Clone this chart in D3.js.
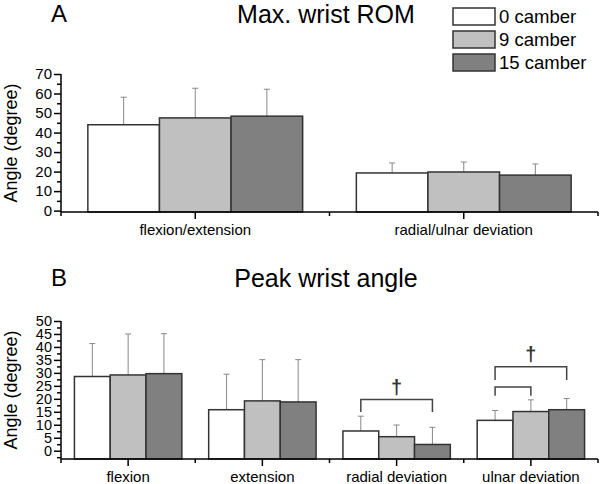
<!DOCTYPE html>
<html>
<head>
<meta charset="utf-8">
<script src="https://cdn.jsdelivr.net/npm/d3@7"></script>
<style>
  body { margin: 0; background: #fff; }
  svg { font-family: "Liberation Sans", Arial, sans-serif; }
</style>
</head>
<body>
<div id="chart"></div>
<script>
// series (camber conditions)
const seriesNames = ["0 camber", "9 camber", "15 camber"];
const seriesFill = ["#ffffff", "#c0c0c0", "#808080"];

// panel A: max wrist ROM
const romCategories = ["flexion/extension", "radial/ulnar deviation"];
const romMean = [[44.0, 47.5, 48.4], [19.3, 19.8, 18.2]];
const romSd = [[14.1, 15.2, 13.8], [5.1, 5.1, 5.7]];
const romTicks = [0, 10, 20, 30, 40, 50, 60, 70];

// panel B: peak wrist angle
const peakCategories = ["flexion", "extension", "radial deviation", "ulnar deviation"];
const peakMean = [[28.6, 29.2, 29.7], [15.8, 19.2, 18.8], [7.6, 5.4, 2.4], [11.7, 15.1, 15.8]];
const peakSd = [[12.7, 15.8, 15.4], [13.7, 15.9, 16.3], [5.7, 4.5, 6.6], [3.8, 4.5, 4.3]];
const peakTicks = [0, 5, 10, 15, 20, 25, 30, 35, 40, 45, 50];

// significance brackets in panel B: category, from series, to series, top, foot, dagger
const brackets = [
  { cat: "radial deviation", from: 0, to: 2, top: 19.7, foot: 14.9, mark: true },
  { cat: "ulnar deviation", from: 0, to: 2, top: 32.4, foot: 27.3, mark: true },
  { cat: "ulnar deviation", from: 0, to: 1, top: 24.6, foot: 21.2, mark: false }
];

const W = 600, H = 484;
const svg = d3.select("#chart").append("svg")
  .attr("width", W)
  .attr("height", H);

function drawPanel(p) {
  const g = svg.append("g");

  const x = d3.scaleBand()
    .domain(p.categories)
    .range([61, 598])
    .padding(0);

  const xs = d3.scaleBand()
    .domain(d3.range(seriesNames.length))
    .range([x.bandwidth() * 0.1, x.bandwidth() * 0.9])
    .padding(0);

  const y = d3.scaleLinear()
    .domain(p.yDomain)
    .range(p.yRange);

  // bars
  p.categories.forEach((c, ci) => {
    const grp = g.append("g").attr("transform", `translate(${x(c)},0)`);
    p.mean[ci].forEach((m, si) => {
      const cx = xs(si) + xs.bandwidth() / 2;
      // error bar (upper only)
      grp.append("line")
        .attr("x1", cx).attr("x2", cx)
        .attr("y1", y(m)).attr("y2", y(m + p.sd[ci][si]))
        .attr("stroke", "#888").attr("stroke-width", 1);
      grp.append("line")
        .attr("x1", cx - 3).attr("x2", cx + 3)
        .attr("y1", y(m + p.sd[ci][si])).attr("y2", y(m + p.sd[ci][si]))
        .attr("stroke", "#888").attr("stroke-width", 1);
      grp.append("rect")
        .attr("x", xs(si))
        .attr("y", y(m))
        .attr("width", xs.bandwidth())
        .attr("height", y(p.yDomain[0]) - y(m))
        .attr("fill", seriesFill[si])
        .attr("stroke", "#333")
        .attr("stroke-width", 1.5);
    });
  });

  // y axis: major + minor ticks
  const step = p.ticks[1] - p.ticks[0];
  const minor = d3.range(p.ticks[0] - step / 2, p.ticks[p.ticks.length - 1], step / 2)
    .filter(v => v >= p.yDomain[0] && p.ticks.indexOf(v) < 0);

  g.append("line")
    .attr("x1", 61).attr("x2", 61)
    .attr("y1", y(p.yDomain[1])).attr("y2", y(p.yDomain[0]))
    .attr("stroke", "#000").attr("stroke-width", 1.5);

  g.append("g")
    .attr("transform", "translate(61,0)")
    .call(d3.axisLeft(y).tickValues(minor).tickSize(4).tickFormat(""))
    .call(a => a.select(".domain").remove())
    .selectAll("line").attr("stroke-width", 1.5);

  const ya = g.append("g")
    .attr("transform", "translate(61,0)")
    .call(d3.axisLeft(y).tickValues(p.ticks).tickSize(7).tickPadding(2).tickFormat(d3.format("d")))
    .call(a => a.select(".domain").remove());
  ya.selectAll("line").attr("stroke-width", 1.5);
  ya.selectAll("text")
    .style("font-size", p.tickFont)
    .attr("fill", "#000");

  // x axis
  const yb = y(p.yDomain[0]);
  g.append("line")
    .attr("x1", 61).attr("x2", 598)
    .attr("y1", yb).attr("y2", yb)
    .attr("stroke", "#000").attr("stroke-width", 1.5);

  const bounds = p.categories.map(c => x(c)).concat([x.range()[1]]);
  g.selectAll(".xminor").data(bounds).enter().append("line")
    .attr("x1", d => d).attr("x2", d => d)
    .attr("y1", yb).attr("y2", yb + 4)
    .attr("stroke", "#000").attr("stroke-width", 1.5);

  g.selectAll(".xmajor").data(p.categories).enter().append("line")
    .attr("x1", d => x(d) + x.bandwidth() / 2).attr("x2", d => x(d) + x.bandwidth() / 2)
    .attr("y1", yb).attr("y2", yb + 7)
    .attr("stroke", "#000").attr("stroke-width", 1.5);

  g.selectAll(".xlabel").data(p.categories).enter().append("text")
    .attr("x", d => x(d) + x.bandwidth() / 2)
    .attr("y", yb + 23)
    .attr("text-anchor", "middle")
    .style("font-size", "15px")
    .text(d => d);

  // y label
  const ymid = (p.yRange[0] + p.yRange[1]) / 2;
  g.append("text")
    .attr("transform", `translate(17,${ymid}) rotate(-90)`)
    .attr("text-anchor", "middle")
    .style("font-size", "18px")
    .text("Angle (degree)");

  // panel letter and title
  g.append("text")
    .attr("x", 51).attr("y", p.titleY - 1)
    .style("font-size", "24px")
    .text(p.letter);
  g.append("text")
    .attr("x", 326).attr("y", p.titleY)
    .attr("text-anchor", "middle")
    .style("font-size", "25px")
    .text(p.title);

  return { g, x, xs, y };
}

drawPanel({
  categories: romCategories, mean: romMean, sd: romSd, ticks: romTicks,
  yDomain: [-0.7, 70], yRange: [212, 74], tickFont: "15px",
  letter: "A", title: "Max. wrist ROM", titleY: 23
});

const pb = drawPanel({
  categories: peakCategories, mean: peakMean, sd: peakSd, ticks: peakTicks,
  yDomain: [-3.2, 50], yRange: [459, 321], tickFont: "14.5px",
  letter: "B", title: "Peak wrist angle", titleY: 287
});

// brackets
brackets.forEach(b => {
  const cx = i => pb.x(b.cat) + pb.xs(i) + pb.xs.bandwidth() / 2;
  const x1 = cx(b.from), x2 = cx(b.to);
  const yt = pb.y(b.top), yf = pb.y(b.foot);
  pb.g.append("path")
    .attr("d", `M${x1},${yf}V${yt}H${x2}V${yf}`)
    .attr("fill", "none")
    .attr("stroke", "#444")
    .attr("stroke-width", 1.5);
  if (b.mark) {
    pb.g.append("text")
      .attr("x", (x1 + x2) / 2)
      .attr("y", yt - 6)
      .attr("text-anchor", "middle")
      .style("font-size", "20px")
      .style("font-weight", "bold")
      .attr("fill", "#333")
      .text("\u2020");
  }
});

// legend
const legend = svg.append("g").attr("transform", "translate(453,8)");
seriesNames.forEach((s, i) => {
  legend.append("rect")
    .attr("x", 0).attr("y", i * 23)
    .attr("width", 42).attr("height", 17)
    .attr("fill", seriesFill[i])
    .attr("stroke", "#333")
    .attr("stroke-width", 1.5);
  legend.append("text")
    .attr("x", 46).attr("y", i * 23 + 15)
    .style("font-size", "18.5px")
    .text(s);
});
</script>
</body>
</html>
